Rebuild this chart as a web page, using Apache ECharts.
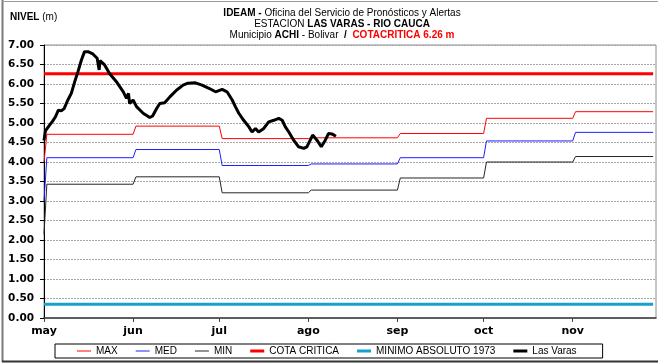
<!DOCTYPE html>
<html>
<head>
<meta charset="utf-8">
<script src="https://cdn.jsdelivr.net/npm/echarts@6/dist/echarts.min.js"></script>
<style>
  html, body { margin: 0; padding: 0; background: #fff; }
  #chart { width: 658px; height: 364px; }
</style>
</head>
<body>
<div id="chart"></div>
<script>
// Month names for the x axis and the day offset (from 1 May) at which each month starts
const monthNames = ['may', 'jun', 'jul', 'ago', 'sep', 'oct', 'nov'];
const monthStartDay = [0, 31, 61, 92, 123, 153, 184];
const lastDay = 212;

// Historical monthly levels (m): value on the first day, then one value per month
const maxStart = 4.00;
const maxMonthly = [4.71, 4.92, 4.60, 4.62, 4.73, 5.12, 5.29];
const medStart = 3.00;
const medMonthly = [4.11, 4.32, 3.91, 3.95, 4.11, 4.54, 4.76];
const minStart = 2.15;
const minMonthly = [3.43, 3.62, 3.21, 3.28, 3.59, 4.00, 4.14];

// Reference levels (m)
const cotaCritica = 6.26;
const minimoAbsoluto1973 = 0.35;

// Observed level at Las Varas: [day offset from 1 May, level in m]
const lasVaras = [
  [0, 4.55], [0.5, 4.80], [2, 4.95], [3, 5.05], [4, 5.16], [5, 5.33], [6, 5.31],
  [7, 5.37], [8.3, 5.59], [9.5, 5.76], [10.7, 6.06], [11.8, 6.31], [13, 6.61],
  [14.1, 6.83], [15.3, 6.83], [17, 6.77], [18.5, 6.66], [19.2, 6.36], [19.5, 6.60],
  [21.1, 6.49], [22.8, 6.27], [25.2, 6.06], [27.6, 5.80], [28.7, 5.63], [29.4, 5.76],
  [29.8, 5.50], [31, 5.59], [32.2, 5.42], [34.5, 5.25], [36.8, 5.14], [37.8, 5.18],
  [39.2, 5.37], [40.3, 5.50], [42, 5.52], [43.8, 5.67], [46.1, 5.84], [48.4, 5.97],
  [50.1, 6.02], [52.7, 6.03], [55, 5.97], [57.4, 5.89], [59.7, 5.80], [62, 5.86],
  [63.7, 5.80], [65.5, 5.59], [66.6, 5.42], [67.8, 5.25], [69.5, 5.07], [71.3, 4.90],
  [72.4, 4.77], [73.6, 4.86], [74.7, 4.77], [76.5, 4.86], [78.2, 5.03], [80, 5.07],
  [81.7, 5.12], [82.9, 5.07], [84, 4.90], [85.2, 4.77], [86.9, 4.56], [88.6, 4.39],
  [90.4, 4.35], [91.5, 4.39], [93.5, 4.69], [95, 4.56], [96.5, 4.39], [97.9, 4.56],
  [99, 4.73], [100.2, 4.72], [101.6, 4.66]
];

// Turns monthly values into a stepped line that holds each value across its month
function monthlySteps(first, monthly) {
  const pts = [[0, first]];
  monthly.forEach((v, i) => {
    const a = monthStartDay[i] + 1;
    const b = i < monthly.length - 1 ? monthStartDay[i + 1] : lastDay;
    pts.push([a, v], [b, v]);
  });
  return pts;
}
function flat(v) { return [[0, v], [lastDay, v]]; }

const FONT = '"Liberation Sans", Arial, sans-serif';

// Legend keys drawn as plain strokes: a thin bar or a thick bar
const thinKey = 'path://M0,0H14V1H0Z';
const thickKey = 'path://M0,0H14V3H0Z';

const chart = echarts.init(document.getElementById('chart'), null, { renderer: 'canvas' });

function lineSeries(name, data, color, width, z) {
  return {
    name, type: 'line', data, showSymbol: false, symbol: 'none',
    lineStyle: { color, width }, itemStyle: { color }, z,
    silent: true, animation: false
  };
}

chart.setOption({
  backgroundColor: '#ffffff',
  animation: false,
  title: {
    left: 342, top: 8, padding: 0, textAlign: 'center',
    text: '{b|IDEAM -} Oficina del Servicio de Pronósticos y Alertas\n' +
          'ESTACION {b|LAS VARAS - RIO CAUCA}\n' +
          'Municipio {b|ACHI} - Bolivar  {b|/}  {r|COTACRITICA 6.26 m}',
    textStyle: {
      fontFamily: FONT, fontSize: 10, fontWeight: 'normal', color: '#000', lineHeight: 11,
      rich: {
        b: { fontFamily: FONT, fontSize: 10, fontWeight: 'bold', color: '#000', lineHeight: 11 },
        r: { fontFamily: FONT, fontSize: 10, fontWeight: 'bold', color: '#ff0000', lineHeight: 11 }
      }
    }
  },
  graphic: [
    { type: 'text', left: 10, top: 12, silent: true,
      style: { text: '{b|NIVEL} (m)', fontFamily: FONT, fontSize: 10, fill: '#000',
               rich: { b: { fontFamily: FONT, fontSize: 10, fontWeight: 'bold', fill: '#000' } } } },
    { type: 'line', silent: true, shape: { x1: 2.5, y1: 0, x2: 2.5, y2: 362 }, style: { stroke: '#7a7a7a', lineWidth: 2 } },
    { type: 'line', silent: true, shape: { x1: 2, y1: 1.5, x2: 658, y2: 1.5 }, style: { stroke: '#9a9a9a', lineWidth: 1 } },
    { type: 'line', silent: true, shape: { x1: 2, y1: 361.5, x2: 658, y2: 361.5 }, style: { stroke: '#333', lineWidth: 2 } }
  ],
  legend: {
    left: 55, top: 344,
    padding: [2, 26, 2, 22],
    itemGap: 18, itemWidth: 14, itemHeight: 10,
    borderColor: '#000', borderWidth: 1,
    textStyle: { fontFamily: FONT, fontSize: 10, color: '#000' },
    selectedMode: false,
    data: [
      { name: 'MAX', icon: thinKey },
      { name: 'MED', icon: thinKey },
      { name: 'MIN', icon: thinKey },
      { name: 'COTA CRITICA', icon: thickKey },
      { name: 'MINIMO ABSOLUTO 1973', icon: thickKey },
      { name: 'Las Varas', icon: thickKey }
    ]
  },
  grid: {
    left: 44, top: 45, right: 2, bottom: 46,
    show: true, borderColor: '#8c8c8c', borderWidth: 1, backgroundColor: '#fff'
  },
  xAxis: {
    type: 'value', min: 0, max: 213,
    axisLine: { show: true, onZero: false, lineStyle: { color: '#404040', width: 1.5 } },
    axisTick: { show: true, length: 4, customValues: monthStartDay, lineStyle: { color: '#404040' } },
    axisLabel: {
      customValues: monthStartDay,
      formatter: v => monthNames[monthStartDay.indexOf(Math.round(v))] || '',
      fontFamily: '"DejaVu Sans", sans-serif', fontWeight: 'bold', fontSize: 11, color: '#000', margin: 8
    },
    splitLine: { show: false }
  },
  yAxis: {
    type: 'value', min: 0, max: 7, interval: 0.5,
    axisLine: { show: true, lineStyle: { color: '#000', width: 1 } },
    axisTick: { show: true, length: 4, lineStyle: { color: '#000' } },
    axisLabel: {
      formatter: v => v.toFixed(2),
      fontFamily: '"DejaVu Sans", sans-serif', fontWeight: 'bold', fontSize: 10.5, color: '#000', margin: 10
    },
    splitLine: { show: true, lineStyle: { color: '#a6a6a6', type: [2, 1], width: 1 } }
  },
  series: [
    lineSeries('MAX', monthlySteps(maxStart, maxMonthly), '#ff0000', 1, 2),
    lineSeries('MED', monthlySteps(medStart, medMonthly), '#1f1fff', 1, 2),
    lineSeries('MIN', monthlySteps(minStart, minMonthly), '#262626', 1, 2),
    lineSeries('COTA CRITICA', flat(cotaCritica), '#ff0000', 3, 3),
    lineSeries('MINIMO ABSOLUTO 1973', flat(minimoAbsoluto1973), '#16a0cc', 3, 3),
    lineSeries('Las Varas', lasVaras, '#000000', 3, 4)
  ]
});
</script>
</body>
</html>
